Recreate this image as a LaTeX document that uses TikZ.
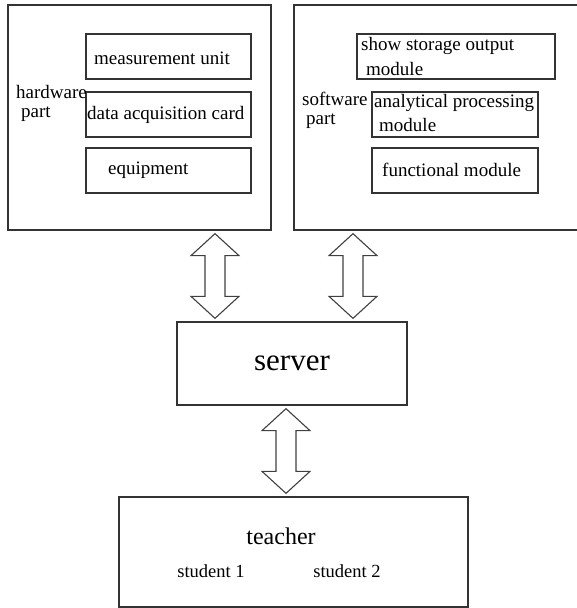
\documentclass[tikz,border=0pt]{standalone}
\usepackage{fontspec}
\setmainfont{Liberation Serif}
\usepackage{tikz}
\usetikzlibrary{calc}
\newcommand{\fs}[1]{\fontsize{#1}{#1}\selectfont}
% hollow double arrow between two named points (top, bottom)
\newcommand{\updown}[2]{%
  \draw[hollow] ($(#1)+(0,3)$) -- ++(24,22) -- ++(-14,0) -- ($(#2)+(10,-25)$)
    -- ++(14,0) -- ($(#2)+(0,-3)$) -- ++(-24,-22) -- ++(14,0)
    -- ($(#1)+(-10,25)$) -- ++(-14,0) -- cycle;}

\begin{document}
\begin{tikzpicture}[x=1pt,y=-1pt,
  box/.style={draw=black!80,line width=1.3pt,minimum width=#1,inner sep=0pt},
  txt/.style={inner sep=0pt,anchor=west,font=\fs{19}},
  hollow/.style={draw=black!75,line width=1.1pt,fill=white,line join=miter}]
  \useasboundingbox (0,0) rectangle (576,608);

  % outer parts
  \node[box=263,minimum height=225] (hw) at (139.5,117.5) {};
  \node[box=284,minimum height=225] (sw) at (436,117.5) {};

  % hardware part
  \node[box=165,minimum height=45] (mu)  at (168.5,56.5)  {};
  \node[box=165,minimum height=45] (dac) at (168.5,114.5) {};
  \node[box=165,minimum height=45] (eq)  at (168.5,170.5) {};
  \node[txt] (mut)  at (94,58)   {measurement unit};
  \node[txt] (dact) at (87,115)  {data acquisition card};
  \node[txt] (eqt)  at (108,170) {equipment};
  \node[txt] (hwt)  at (16,92)   {hardware};
  \node[txt] (hwp)  at (21,114)  {part};

  % software part
  \node[box=198,minimum height=45] (ss) at (456,56.5)  {};
  \node[box=166,minimum height=45] (ap) at (455,114.5) {};
  \node[box=166,minimum height=45] (fm) at (455,170.5) {};
  \node[txt] (sst)  at (361,46)  {show storage output};
  \node[txt] (ssm)  at (366,69)  {module};
  \node[txt] (apt)  at (374,103) {analytical processing};
  \node[txt] (apm)  at (379,125) {module};
  \node[txt] (fmt)  at (382,170) {functional module};
  \node[txt] (swt)  at (302,99)  {software};
  \node[txt] (swp)  at (306,121) {part};

  % server and clients
  \node[box=230,minimum height=83,font=\fs{31}] (srv) at (292,363.5) {server};
  \node[box=349,minimum height=110] (tc) at (293.5,552) {};
  \node[font=\fs{24}] (tct) at (281,536) {teacher};
  \node[font=\fs{18.5}] (st1) at (211,571) {student 1};
  \node[font=\fs{18.5}] (st2) at (347,571) {student 2};

  % links
  \coordinate (a1) at (215,0 |- hw.south);
  \coordinate (b1) at (215,0 |- srv.north);
  \coordinate (a2) at (353,0 |- sw.south);
  \coordinate (b2) at (353,0 |- srv.north);
  \coordinate (a3) at (286,0 |- srv.south);
  \coordinate (b3) at (286,0 |- tc.north);
  \updown{a1}{b1}
  \updown{a2}{b2}
  \updown{a3}{b3}
\end{tikzpicture}
\end{document}
